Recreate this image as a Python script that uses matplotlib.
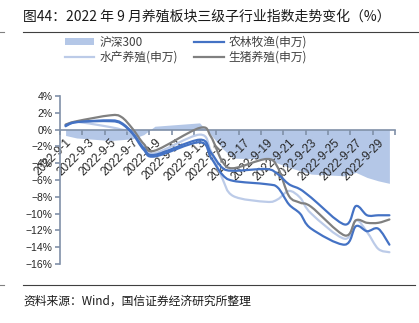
import numpy as np
import matplotlib
matplotlib.use('Agg')
from matplotlib import pyplot as plt
from matplotlib.lines import Line2D
from matplotlib.patches import Patch, PathPatch
from matplotlib.path import Path

cjk = ['Noto Sans CJK SC', 'DejaVu Sans']
plt.rcParams['font.family'] = ['Liberation Sans', 'DejaVu Sans']

# trading days of Sep 2022 (day of month) and index change (%)
days = [1, 2, 5, 6, 7, 8, 9, 13, 14, 15, 16, 19, 20, 21, 22, 23, 26, 27, 28, 29, 30]
hs300 = [-0.7, -1.0, -1.3, -1.2, -1.1, -0.6, 0.4, 0.8, -0.6, -2.2, -3.4,
         -3.5, -4.0, -4.5, -4.9, -5.3, -5.5, -5.1, -5.7, -6.1, -6.4]
nonglin = [0.5, 0.9, 1.1, 0.8, -0.4, -2.2, -3.0, -1.2, -2.7, -4.5, -4.9,
           -4.7, -5.3, -6.5, -7.1, -8.1, -11.3, -9.1, -10.2, -10.2, -10.2]
yangzhi = [0.4, 0.9, 1.0, 0.7, -0.5, -2.4, -3.2, -1.5, -3.3, -5.3, -6.1,
           -6.5, -6.9, -8.9, -10.0, -11.8, -13.7, -11.5, -12.1, -11.8, -13.7]
shuichan = [0.5, 0.9, 0.3, 0.0, -0.3, -1.8, -2.8, -0.6, -2.5, -5.7, -7.9,
            -8.6, -8.3, -7.3, -8.1, -10.0, -13.0, -10.8, -12.2, -14.2, -14.6]
shengzhu = [0.6, 1.0, 1.7, 1.5, 0.1, -1.7, -2.5, 0.2, -0.8, -3.7, -4.6,
            -3.5, -4.5, -7.9, -8.7, -9.2, -12.6, -10.8, -11.1, -11.1, -10.7]

label_days = list(range(1, 30, 2))
x_labels = ['2022-9-' + str(d) for d in label_days]
y_ticks = list(range(-16, 5, 2))

c_area = '#b4c7e7'
c_blue = '#4472c4'
c_light = '#bccbe8'
c_gray = '#808080'
c_axis = '#8090a8'


def smooth_line(ax, x, y, **kw):
    # excel-like smoothed line: bezier curve through the points
    p = np.column_stack([x, y]).astype(float)
    verts = [p[0]]
    codes = [Path.MOVETO]
    n = len(p)
    for i in range(n - 1):
        p0 = p[i - 1] if i > 0 else p[i]
        p3 = p[i + 2] if i + 2 < n else p[i + 1]
        c1 = p[i] + (p[i + 1] - p0) / 6.0
        c2 = p[i + 1] - (p3 - p[i]) / 6.0
        verts += [c1, c2, p[i + 1]]
        codes += [Path.CURVE4] * 3
    ax.add_patch(PathPatch(Path(verts, codes), facecolor='none',
                           capstyle='round', joinstyle='round', **kw))


fig = plt.figure(figsize=(4.19, 3.23), dpi=100)
ax = fig.add_axes([0.1432, 0.1827, 0.7995, 0.5201])

ax.fill_between(days, hs300, 0, color=c_area, lw=0, zorder=1)
smooth_line(ax, days, shuichan, edgecolor=c_light, lw=1.6, zorder=2)
smooth_line(ax, days, yangzhi, edgecolor=c_blue, lw=1.6, zorder=3)
smooth_line(ax, days, shengzhu, edgecolor=c_gray, lw=1.6, zorder=4)
smooth_line(ax, days, nonglin, edgecolor=c_blue, lw=1.6, zorder=5)

ax.set_xlim(0.5, 30.5)
ax.set_ylim(-16, 4)

for s in ['top', 'right']:
    ax.spines[s].set_visible(False)
ax.spines['bottom'].set_position(('data', 0))
ax.spines['bottom'].set_color(c_axis)
ax.spines['left'].set_color(c_axis)
ax.spines['bottom'].set_linewidth(1.2)
ax.spines['left'].set_linewidth(1.2)

ax.set_xticks(label_days)
ax.set_xticklabels(x_labels, rotation=45, ha='right', va='top',
                   rotation_mode='anchor', fontsize=8.5, color='#262626')
ax.set_xticks(np.arange(0.5, 31, 2), minor=True)
ax.tick_params(axis='x', which='major', length=0, pad=5)
ax.tick_params(axis='x', which='minor', length=3.5, width=1.2,
               color=c_axis, direction='out')

ax.set_yticks(y_ticks)
ax.set_yticklabels([(str(v) if v >= 0 else '\u2212' + str(-v)) + '%' for v in y_ticks],
                   fontsize=7.5, color='#262626')
ax.tick_params(axis='y', length=3.5, width=1.2, color=c_axis, pad=2)

handles = [Patch(facecolor=c_area, edgecolor='none'),
           Line2D([], [], color=c_light, lw=1.6),
           Line2D([], [], color=c_blue, lw=1.6),
           Line2D([], [], color=c_gray, lw=1.6)]
labels = ['沪深300', '水产养殖(申万)', '农林牧渔(申万)', '生猪养殖(申万)']
fig.legend(handles, labels, loc='upper left', bbox_to_anchor=(0.155, 0.89),
           ncol=2, frameon=False, prop={'family': cjk, 'size': 8.5},
           handlelength=2.5, handleheight=0.6, handletextpad=0.4,
           columnspacing=1.4, labelspacing=0.2, borderpad=0, borderaxespad=0,
           labelcolor='#404040')

fig.text(0.055, 0.950, '图44：2022 年 9 月养殖板块三级子行业指数走势变化（%）',
         family=cjk, fontsize=10, color='#1a1a1a', va='center', ha='left')
fig.text(0.055, 0.068, '资料来源：Wind，国信证券经济研究所整理',
         family=cjk, fontsize=8.5, color='#1a1a1a', va='center', ha='left')

fig.add_artist(Line2D([0.055, 1.0], [0.901, 0.901], color='#404040', lw=0.8))
fig.add_artist(Line2D([0.055, 0.99], [0.118, 0.118], color='#404040', lw=0.8))
fig.add_artist(Line2D([0.0, 0.01], [0.901, 0.901], color='#808080', lw=0.8))
fig.add_artist(Line2D([0.0, 0.01], [0.118, 0.118], color='#808080', lw=0.8))

plt.savefig('out.png', dpi=100)
